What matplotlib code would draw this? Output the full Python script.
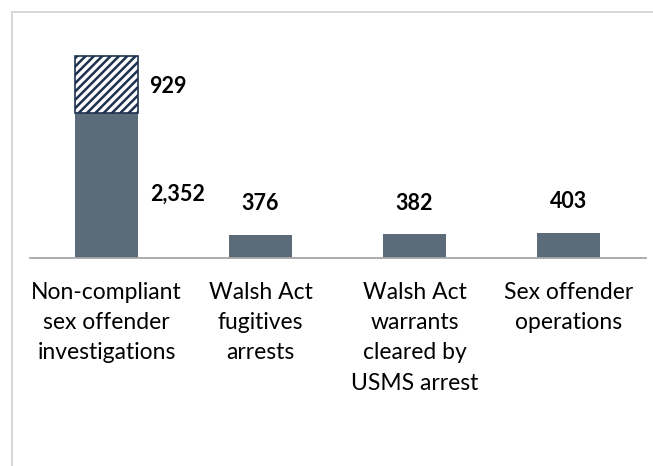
import numpy as np
import matplotlib
matplotlib.use("Agg")
import matplotlib.pyplot as plt
from matplotlib.patches import Rectangle

plt.rcParams['font.family'] = ['Lato', 'DejaVu Sans']
plt.rcParams['hatch.linewidth'] = 1.8

categories = ["Non-compliant\nsex offender\ninvestigations",
              "Walsh Act\nfugitives\narrests",
              "Walsh Act\nwarrants\ncleared by\nUSMS arrest",
              "Sex offender\noperations"]
base_vals = [2352, 376, 382, 403]
extra_vals = [929, 0, 0, 0]

bar_color = '#5b6b7a'
hatch_color = '#1e3250'

fig = plt.figure(figsize=(6.53, 4.66), dpi=100)
# outer border like the pasted chart frame
fig.patches.append(Rectangle((12 / 653, -0.1), 1.2, (466 - 12) / 466 + 0.1,
                             transform=fig.transFigure, fill=False,
                             edgecolor='#d4d4d4', linewidth=1.3))

ax = fig.add_axes([29.5 / 653, (466 - 258) / 466, 616 / 653, 216 / 466])
x = np.arange(len(categories))
w = 0.41
ax.bar(x, base_vals, width=w, color=bar_color, zorder=2)
ax.bar(x[:1], extra_vals[:1], bottom=base_vals[:1], width=w, color='white',
       edgecolor=hatch_color, hatch='////', linewidth=1.2, zorder=2)

ax.set_xlim(-0.5, len(categories) - 0.5)
ax.set_ylim(0, 3500)
for s in ['top', 'right', 'left']:
    ax.spines[s].set_visible(False)
ax.spines['bottom'].set_color('#a6a6a6')
ax.spines['bottom'].set_linewidth(1.3)
ax.set_yticks([])
ax.set_xticks(x)
ax.set_xticklabels(categories, fontsize=16.5, linespacing=1.55)
ax.tick_params(axis='x', length=0, pad=17)

lab = dict(fontsize=15.5, fontweight='bold', color='black')
# stacked bar labels to the right
ax.annotate(f"{extra_vals[0]:,}", (x[0] + w / 2, base_vals[0] + extra_vals[0] / 2),
            xytext=(8, -2), textcoords='offset points', ha='left', va='center', **lab)
ax.annotate(f"{base_vals[0]:,}", (x[0] + w / 2, base_vals[0] / 2),
            xytext=(9, -6), textcoords='offset points', ha='left', va='center', **lab)
for i in range(1, len(categories)):
    ax.annotate(f"{base_vals[i]:,}", (x[i], base_vals[i]),
                xytext=(0, 15), textcoords='offset points', ha='center', va='bottom', **lab)

fig.savefig("out.png", dpi=100)
